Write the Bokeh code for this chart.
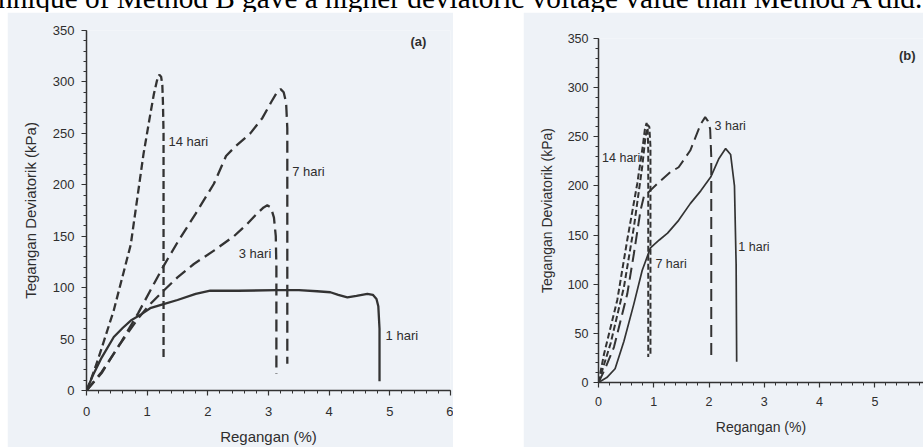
from bokeh.plotting import figure
from bokeh.models import Div
from bokeh.core.properties import value
from bokeh.embed import file_html
from bokeh.resources import INLINE

# ---------------- data: panel (a) ----------------
a_14_x = [0, 0.07, 0.2, 0.45, 0.73, 0.94, 1.05, 1.11, 1.16, 1.20, 1.23, 1.25, 1.26, 1.27, 1.27]
a_14_y = [0, 10, 32, 78, 142, 230, 268, 288, 301, 307, 305, 297, 280, 250, 31]
a_7_x = [0, 0.25, 0.55, 0.85, 1.05, 1.27, 1.5, 1.8, 2.1, 2.3, 2.45, 2.7, 2.9, 3.05, 3.15, 3.2, 3.25, 3.29, 3.31, 3.31]
a_7_y = [0, 18, 45, 75, 97, 121, 144, 172, 201, 228, 237, 250, 265, 281, 291, 293, 290, 280, 255, 26]
a_3_x = [0, 0.25, 0.55, 0.85, 1.05, 1.27, 1.5, 1.77, 2.1, 2.43, 2.65, 2.81, 2.92, 2.98, 3.04, 3.09, 3.12, 3.13, 3.13]
a_3_y = [0, 17, 45, 70, 84, 97, 110, 123, 136, 150, 162, 172, 178, 180, 178, 168, 150, 120, 16]
a_1_x = [0, 0.1, 0.25, 0.45, 0.6, 0.73, 0.9, 1.05, 1.27, 1.5, 1.8, 2.04, 2.5, 3.14, 3.5, 3.8, 4.02, 4.15, 4.3, 4.45, 4.63, 4.72, 4.78, 4.81, 4.83, 4.83]
a_1_y = [0, 14, 32, 52, 61, 68, 74, 80, 84, 88, 94, 97, 97, 97.5, 97.5, 96.5, 95.5, 93, 90.5, 92, 94, 93, 89, 82, 60, 9]

a_label_text = ["14 hari", "7 hari", "3 hari", "1 hari"]
a_label_x = [1.35, 3.39, 2.51, 4.93]
a_label_y = [242, 213, 133, 53]

# ---------------- data: panel (b) ----------------
b_14_x = [0, 0.1, 0.34, 0.52, 0.70, 0.80, 0.84, 0.87, 0.89, 0.90, 0.90]
b_14_y = [0, 29, 84, 145, 202, 240, 258, 264, 258, 235, 26]
b_7_x = [0, 0.22, 0.46, 0.64, 0.79, 0.85, 0.89, 0.92, 0.94, 0.94]
b_7_y = [0, 40, 97, 158, 219, 250, 262, 260, 240, 28]
b_3_x = [0, 0.12, 0.28, 0.52, 0.64, 0.76, 0.82, 1.06, 1.3, 1.45, 1.66, 1.85, 1.93, 1.98, 2.02, 2.04, 2.04]
b_3_y = [0, 14, 36, 90, 131, 175, 189, 202, 214, 219, 236, 263, 270, 266, 258, 230, 26]
b_1_x = [0, 0.15, 0.3, 0.46, 0.64, 0.79, 0.94, 1.1, 1.25, 1.45, 1.66, 1.85, 2.03, 2.18, 2.3, 2.39, 2.46, 2.49, 2.5]
b_1_y = [0, 5, 14, 42, 80, 114, 137, 145, 152, 165, 182, 195, 209, 228, 238, 232, 200, 120, 21]

b_label_text = ["14 hari", "7 hari", "3 hari", "1 hari"]
b_label_x = [0.065, 1.03, 2.1, 2.53]
b_label_y = [228, 121, 261, 138]

x_title = "Regangan (%)"
y_title = "Tegangan Deviatorik (kPa)"
top_text = "hnique of Method B gave a higher deviatoric voltage value than Method A did."

PANEL = "#eef2f7"
INK = "#333333"
TXT = "#2e2e2e"
SANS = "Liberation Sans"


def style_axes(p, tick_size, title_size, ylab_standoff, ytitle_standoff, xlab_standoff, xtitle_standoff):
    for ax in (p.xaxis[0], p.yaxis[0]):
        ax.axis_line_color = INK
        ax.axis_line_width = 1.5
        ax.major_tick_line_color = INK
        ax.minor_tick_line_color = INK
        ax.major_tick_line_width = 1.2
        ax.minor_tick_line_width = 1
        ax.major_tick_out = 5
        ax.major_tick_in = 0
        ax.minor_tick_out = 3
        ax.minor_tick_in = 0
        ax.major_label_text_font = SANS
        ax.major_label_text_font_size = tick_size
        ax.major_label_text_color = TXT
        ax.axis_label_text_font = SANS
        ax.axis_label_text_font_size = title_size
        ax.axis_label_text_font_style = "normal"
        ax.axis_label_text_color = TXT
    p.yaxis[0].major_label_standoff = ylab_standoff
    p.yaxis[0].axis_label_standoff = ytitle_standoff
    p.xaxis[0].major_label_standoff = xlab_standoff
    p.xaxis[0].axis_label_standoff = xtitle_standoff
    p.xaxis[0].ticker.num_minor_ticks = 5
    p.yaxis[0].ticker.num_minor_ticks = 5
    p.grid.visible = False
    p.outline_line_color = None
    p.background_fill_color = PANEL
    p.border_fill_color = PANEL


def make_panel(width, height, xr, yr, mb_left, mb_right, mb_top, mb_bottom, left, top):
    p = figure(width=width, height=height, x_range=xr, y_range=yr,
               output_backend="svg", toolbar_location=None,
               min_border_left=mb_left, min_border_right=mb_right,
               min_border_top=mb_top, min_border_bottom=mb_bottom,
               x_axis_label=x_title, y_axis_label=y_title,
               styles={"position": "absolute", "left": f"{left}px", "top": f"{top}px"})
    return p


# ---------------- panel (a) ----------------
pa = make_panel(446, 435, (0, 6), (0, 350), 79, 3, 18, 57, 7, 12)
style_axes(pa, "13px", "15px", 7, 11, 11, 9)
pa.xaxis[0].ticker.desired_num_ticks = 7
pa.yaxis[0].ticker.desired_num_ticks = 8
pa.line(a_1_x, a_1_y, line_color=INK, line_width=2.3)
pa.line(a_14_x, a_14_y, line_color=INK, line_width=2.3, line_dash="8 4")
pa.line(a_7_x, a_7_y, line_color=INK, line_width=2.3, line_dash="12 6")
pa.line(a_3_x, a_3_y, line_color=INK, line_width=2.3, line_dash="12 6")
pa.text(a_label_x, a_label_y, text=a_label_text, text_font=value(SANS), text_font_size="13px",
        text_color=TXT, text_baseline="middle", text_align="left")
pa.text([5.47], [339], text=["(a)"], text_font=value(SANS), text_font_size="13px",
        text_font_style="bold", text_color=TXT, text_baseline="middle", text_align="center")

# ---------------- panel (b) ----------------
pb = make_panel(400, 435, (0, 5.88), (0, 350), 75, 0, 26, 65, 523, 12)
style_axes(pb, "12.5px", "14px", 5, 10, 9, 10)
pb.xaxis[0].ticker.desired_num_ticks = 6
pb.yaxis[0].ticker.desired_num_ticks = 8
pb.line(b_1_x, b_1_y, line_color=INK, line_width=1.7)
pb.line(b_14_x, b_14_y, line_color=INK, line_width=2.0, line_dash="6 3")
pb.line(b_7_x, b_7_y, line_color=INK, line_width=2.0, line_dash="6 3")
pb.line(b_3_x, b_3_y, line_color=INK, line_width=2.0, line_dash="12 6")
pb.text(b_label_x, b_label_y, text=b_label_text, text_font=value(SANS), text_font_size="12.5px",
        text_color=TXT, text_baseline="middle", text_align="left")
pb.text([5.585], [333], text=["(b)"], text_font=value(SANS), text_font_size="13px",
        text_font_style="bold", text_color=TXT, text_baseline="middle", text_align="center")

# ---------------- top caption fragment ----------------
div = Div(text=('<div style="font-family:\'Liberation Serif\';font-size:29.3px;line-height:29px;'
                'white-space:nowrap;position:relative;top:-16px;left:-2px;color:#000;">'
                + top_text + '</div>'),
          width=923, height=12, margin=(0, 0, 0, 0),
          styles={"overflow": "hidden", "position": "absolute", "left": "0px", "top": "0px"})

open("out.html", "w").write(file_html([div, pa, pb], INLINE))
